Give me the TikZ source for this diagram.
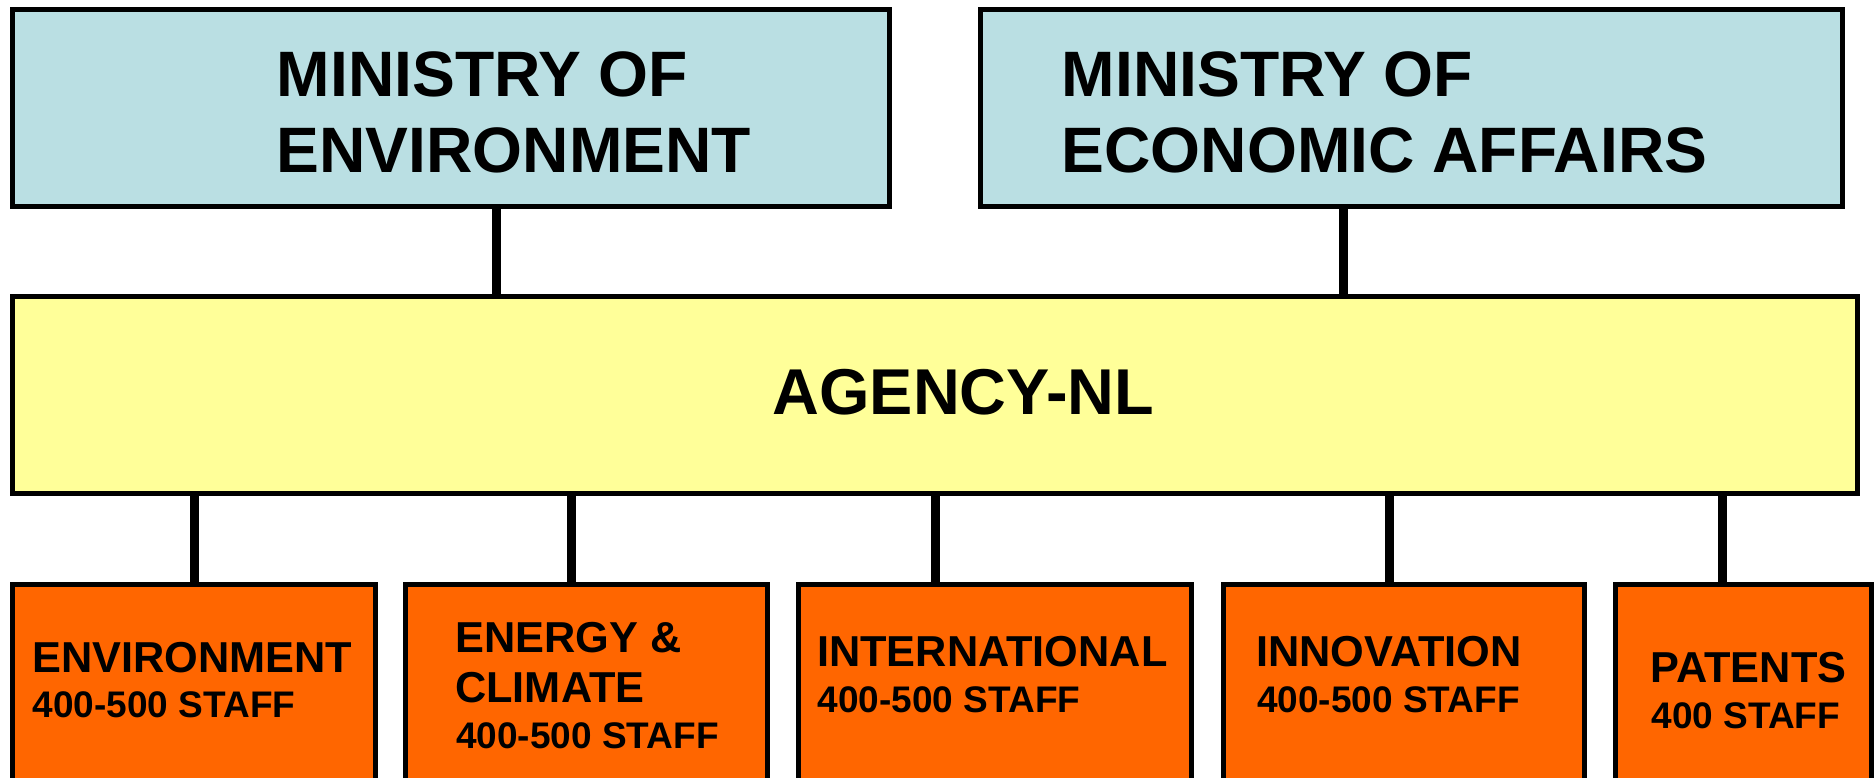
\documentclass[tikz,border=0pt]{standalone}
\usepackage{fontspec}
\setmainfont{Liberation Sans}
\definecolor{minblue}{RGB}{186,223,227}
\definecolor{agyellow}{RGB}{255,255,153}
\definecolor{deptorange}{RGB}{255,102,0}
\tikzset{
  boxbase/.style={draw=black, line width=5pt, rectangle, anchor=north west, inner sep=0pt, outer sep=0pt},
  minbox/.style={boxbase, fill=minblue},
  agbox/.style={boxbase, fill=agyellow},
  deptbox/.style={boxbase, fill=deptorange},
  link/.style={draw=black, line width=9pt},
  bigtxt/.style={anchor=base west, inner sep=0pt, font=\fontsize{64.2}{76}\selectfont\bfseries},
  agtxt/.style={anchor=base west, inner sep=0pt, font=\fontsize{64.8}{74}\selectfont\bfseries},
  depttxt/.style={anchor=base west, inner sep=0pt, font=\fontsize{43.3}{50}\selectfont\bfseries},
  stafftxt/.style={anchor=base west, inner sep=0pt, font=\fontsize{37}{44}\selectfont\bfseries}
}
\begin{document}
\begin{tikzpicture}[x=1pt,y=-1pt]
\useasboundingbox (0,0) rectangle (1874,778);
\clip (0,0) rectangle (1874,778);
\fill[white] (0,0) rectangle (1874,778);

% ministries
\node[minbox, minimum width=877pt, minimum height=197pt] (minenv) at (12.5,9.5) {};
\node[minbox, minimum width=862pt, minimum height=197pt] (minecon) at (980.5,9.5) {};
% agency
\node[agbox, minimum width=1845pt, minimum height=197pt] (agency) at (12.5,296.5) {};
% departments
\node[deptbox, minimum width=363pt, minimum height=230pt] (denv) at (12.5,584.5) {};
\node[deptbox, minimum width=362pt, minimum height=230pt] (denergy) at (405.5,584.5) {};
\node[deptbox, minimum width=393pt, minimum height=230pt] (dint) at (798.5,584.5) {};
\node[deptbox, minimum width=361pt, minimum height=230pt] (dinno) at (1223.5,584.5) {};
\node[deptbox, minimum width=256pt, minimum height=230pt] (dpat) at (1615.5,584.5) {};

% connector x positions
\coordinate (xa) at (496,0);
\coordinate (xb) at (1343,0);
\coordinate (x1) at (194,0);
\coordinate (x2) at (571,0);
\coordinate (x3) at (935,0);
\coordinate (x4) at (1389,0);
\coordinate (x5) at (1722,0);

\draw[link] (xa |- minenv.south) -- (xa |- agency.north);
\draw[link] (xb |- minecon.south) -- (xb |- agency.north);
\draw[link] (x1 |- agency.south) -- (x1 |- denv.north);
\draw[link] (x2 |- agency.south) -- (x2 |- denergy.north);
\draw[link] (x3 |- agency.south) -- (x3 |- dint.north);
\draw[link] (x4 |- agency.south) -- (x4 |- dinno.north);
\draw[link] (x5 |- agency.south) -- (x5 |- dpat.north);

% texts
\node[bigtxt] (t1a) at (276.5,97) {MINISTRY OF};
\node[bigtxt] (t1b) at (276.5,173) {ENVIRONMENT};
\node[bigtxt] (t2a) at (1061.5,97) {MINISTRY OF};
\node[bigtxt] (t2b) at (1061.5,173) {ECONOMIC AFFAIRS};
\node[agtxt] (t3) at (772.5,414) {AGENCY-NL};

\node[depttxt] (t4a) at (32,672) {ENVIRONMENT};
\node[stafftxt] (t4b) at (32.5,717) {400-500 STAFF};
\node[depttxt] (t5a) at (455,652) {ENERGY \&};
\node[depttxt] (t5b) at (455,702) {CLIMATE};
\node[stafftxt] (t5c) at (456,748) {400-500 STAFF};
\node[depttxt] (t6a) at (817,666) {INTERNATIONAL};
\node[stafftxt] (t6b) at (817.5,712) {400-500 STAFF};
\node[depttxt] (t7a) at (1256,666) {INNOVATION};
\node[stafftxt] (t7b) at (1257,712) {400-500 STAFF};
\node[depttxt] (t8a) at (1650.5,682) {PATENTS};
\node[stafftxt] (t8b) at (1651.5,728) {400 STAFF};
\end{tikzpicture}
\end{document}
